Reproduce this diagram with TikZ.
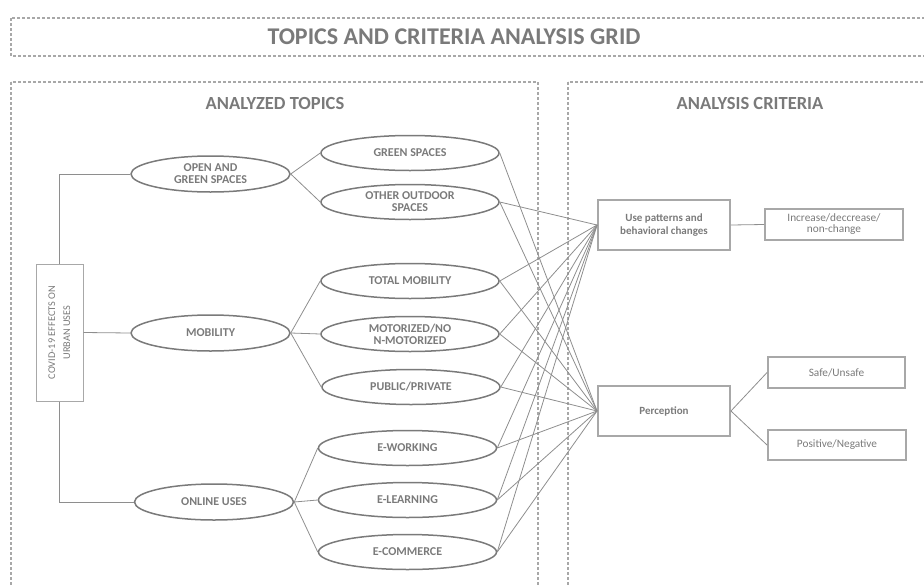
\documentclass[tikz,border=0pt]{standalone}
\usepackage{fontspec}
\setmainfont{Carlito}
\usepackage{xcolor}
\usetikzlibrary{shapes.geometric,positioning}
\definecolor{framegray}{HTML}{A8A8A8}
\definecolor{textgray}{HTML}{7A7A7A}
\definecolor{linkgray}{HTML}{8E8E8E}
\begin{document}
\begin{tikzpicture}[x=1pt,y=-1pt,text=textgray,
    frame/.style={draw=framegray, line width=2.6pt, dash pattern=on 3pt off 2pt},
    topic/.style={ellipse, draw=textgray, line width=1.5pt, inner sep=0pt, align=center,
        minimum width=178, minimum height=35, font=\fontsize{12}{12}\selectfont\bfseries},
    group/.style={topic, minimum width=159, minimum height=36},
    crit/.style={rectangle, draw=framegray, line width=1.9pt, align=center, inner sep=0pt,
        minimum width=132, minimum height=50, font=\fontsize{11}{13}\selectfont\bfseries},
    value/.style={rectangle, draw=framegray, line width=1.9pt, align=center, inner sep=0pt,
        minimum width=138, minimum height=31, font=\fontsize{11.3}{11}\selectfont},
    link/.style={draw=linkgray, line width=0.8pt}]
\useasboundingbox (0,0) rectangle (924,584);
\clip (0,0) rectangle (924,584);

% frames
\draw[frame] (11,18) rectangle (935,56);
\draw[frame] (11,82) rectangle (538,600);
\draw[frame] (568,82) rectangle (935,600);
\node[font=\fontsize{24}{26}\selectfont\bfseries] (title) at (454,37) {TOPICS AND CRITERIA ANALYSIS GRID};
\node[font=\fontsize{18.5}{20}\selectfont\bfseries] (topics) at (275,103) {ANALYZED TOPICS};
\node[font=\fontsize{18.5}{20}\selectfont\bfseries] (criteria) at (750,103) {ANALYSIS CRITERIA};

% topics
\node[draw=framegray, line width=1pt, inner sep=0pt, minimum width=47, minimum height=137] (root) at (59.5,332.5)
    {\rotatebox{90}{\fontsize{10.3}{15}\selectfont\begin{tabular}{@{}c@{}}COVID-19 EFFECTS ON\\URBAN USES\end{tabular}}};
\node[group] (og) at (210.5,174) {OPEN AND\\GREEN SPACES};
\node[group] (mob) at (210.5,333) {MOBILITY};
\node[group] (onl) at (214,502) {ONLINE USES};
\node[topic] (gs) at (410,153) {GREEN SPACES};
\node[topic] (oos) at (410,202) {OTHER OUTDOOR\\SPACES};
\node[topic] (tm) at (410,281) {TOTAL MOBILITY};
\node[topic] (mot) at (410,334) {MOTORIZED/NO\\N-MOTORIZED};
\node[topic] (pp) at (411,387) {PUBLIC/PRIVATE};
\node[topic] (ew) at (407.5,448) {E-WORKING};
\node[topic] (el) at (407.5,500) {E-LEARNING};
\node[topic] (ec) at (407.5,552) {E-COMMERCE};

% criteria
\node[crit] (use) at (664,225) {Use patterns and\\behavioral changes};
\node[crit] (per) at (664,411) {Perception};
\node[value] (inc) at (834,224.5) {Increase/deccrease/\\non-change};
\node[value, minimum width=137] (safe) at (836.5,372.5) {Safe/Unsafe};
\node[value, minimum height=30] (pos) at (837,445) {Positive/Negative};

% links
\draw[link] (root.north) |- (og.west);
\draw[link] (root.east) -- (mob.west);
\draw[link] (root.south) |- (onl.west);
\foreach \a/\b in {og/gs,og/oos,mob/tm,mob/mot,mob/pp,onl/ew,onl/el,onl/ec}
    \draw[link] (\a.east) -- (\b.west);
\foreach \t in {oos,tm,mot,pp,ew,el,ec}
    \draw[link] (\t.east) -- (use.west);
\foreach \t in {gs,oos,tm,mot,pp,ew,el,ec}
    \draw[link] (\t.east) -- (per.west);
\draw[link] (use.east) -- (inc.west);
\draw[link] (per.east) -- (safe.west);
\draw[link] (per.east) -- (pos.west);
\end{tikzpicture}
\end{document}
